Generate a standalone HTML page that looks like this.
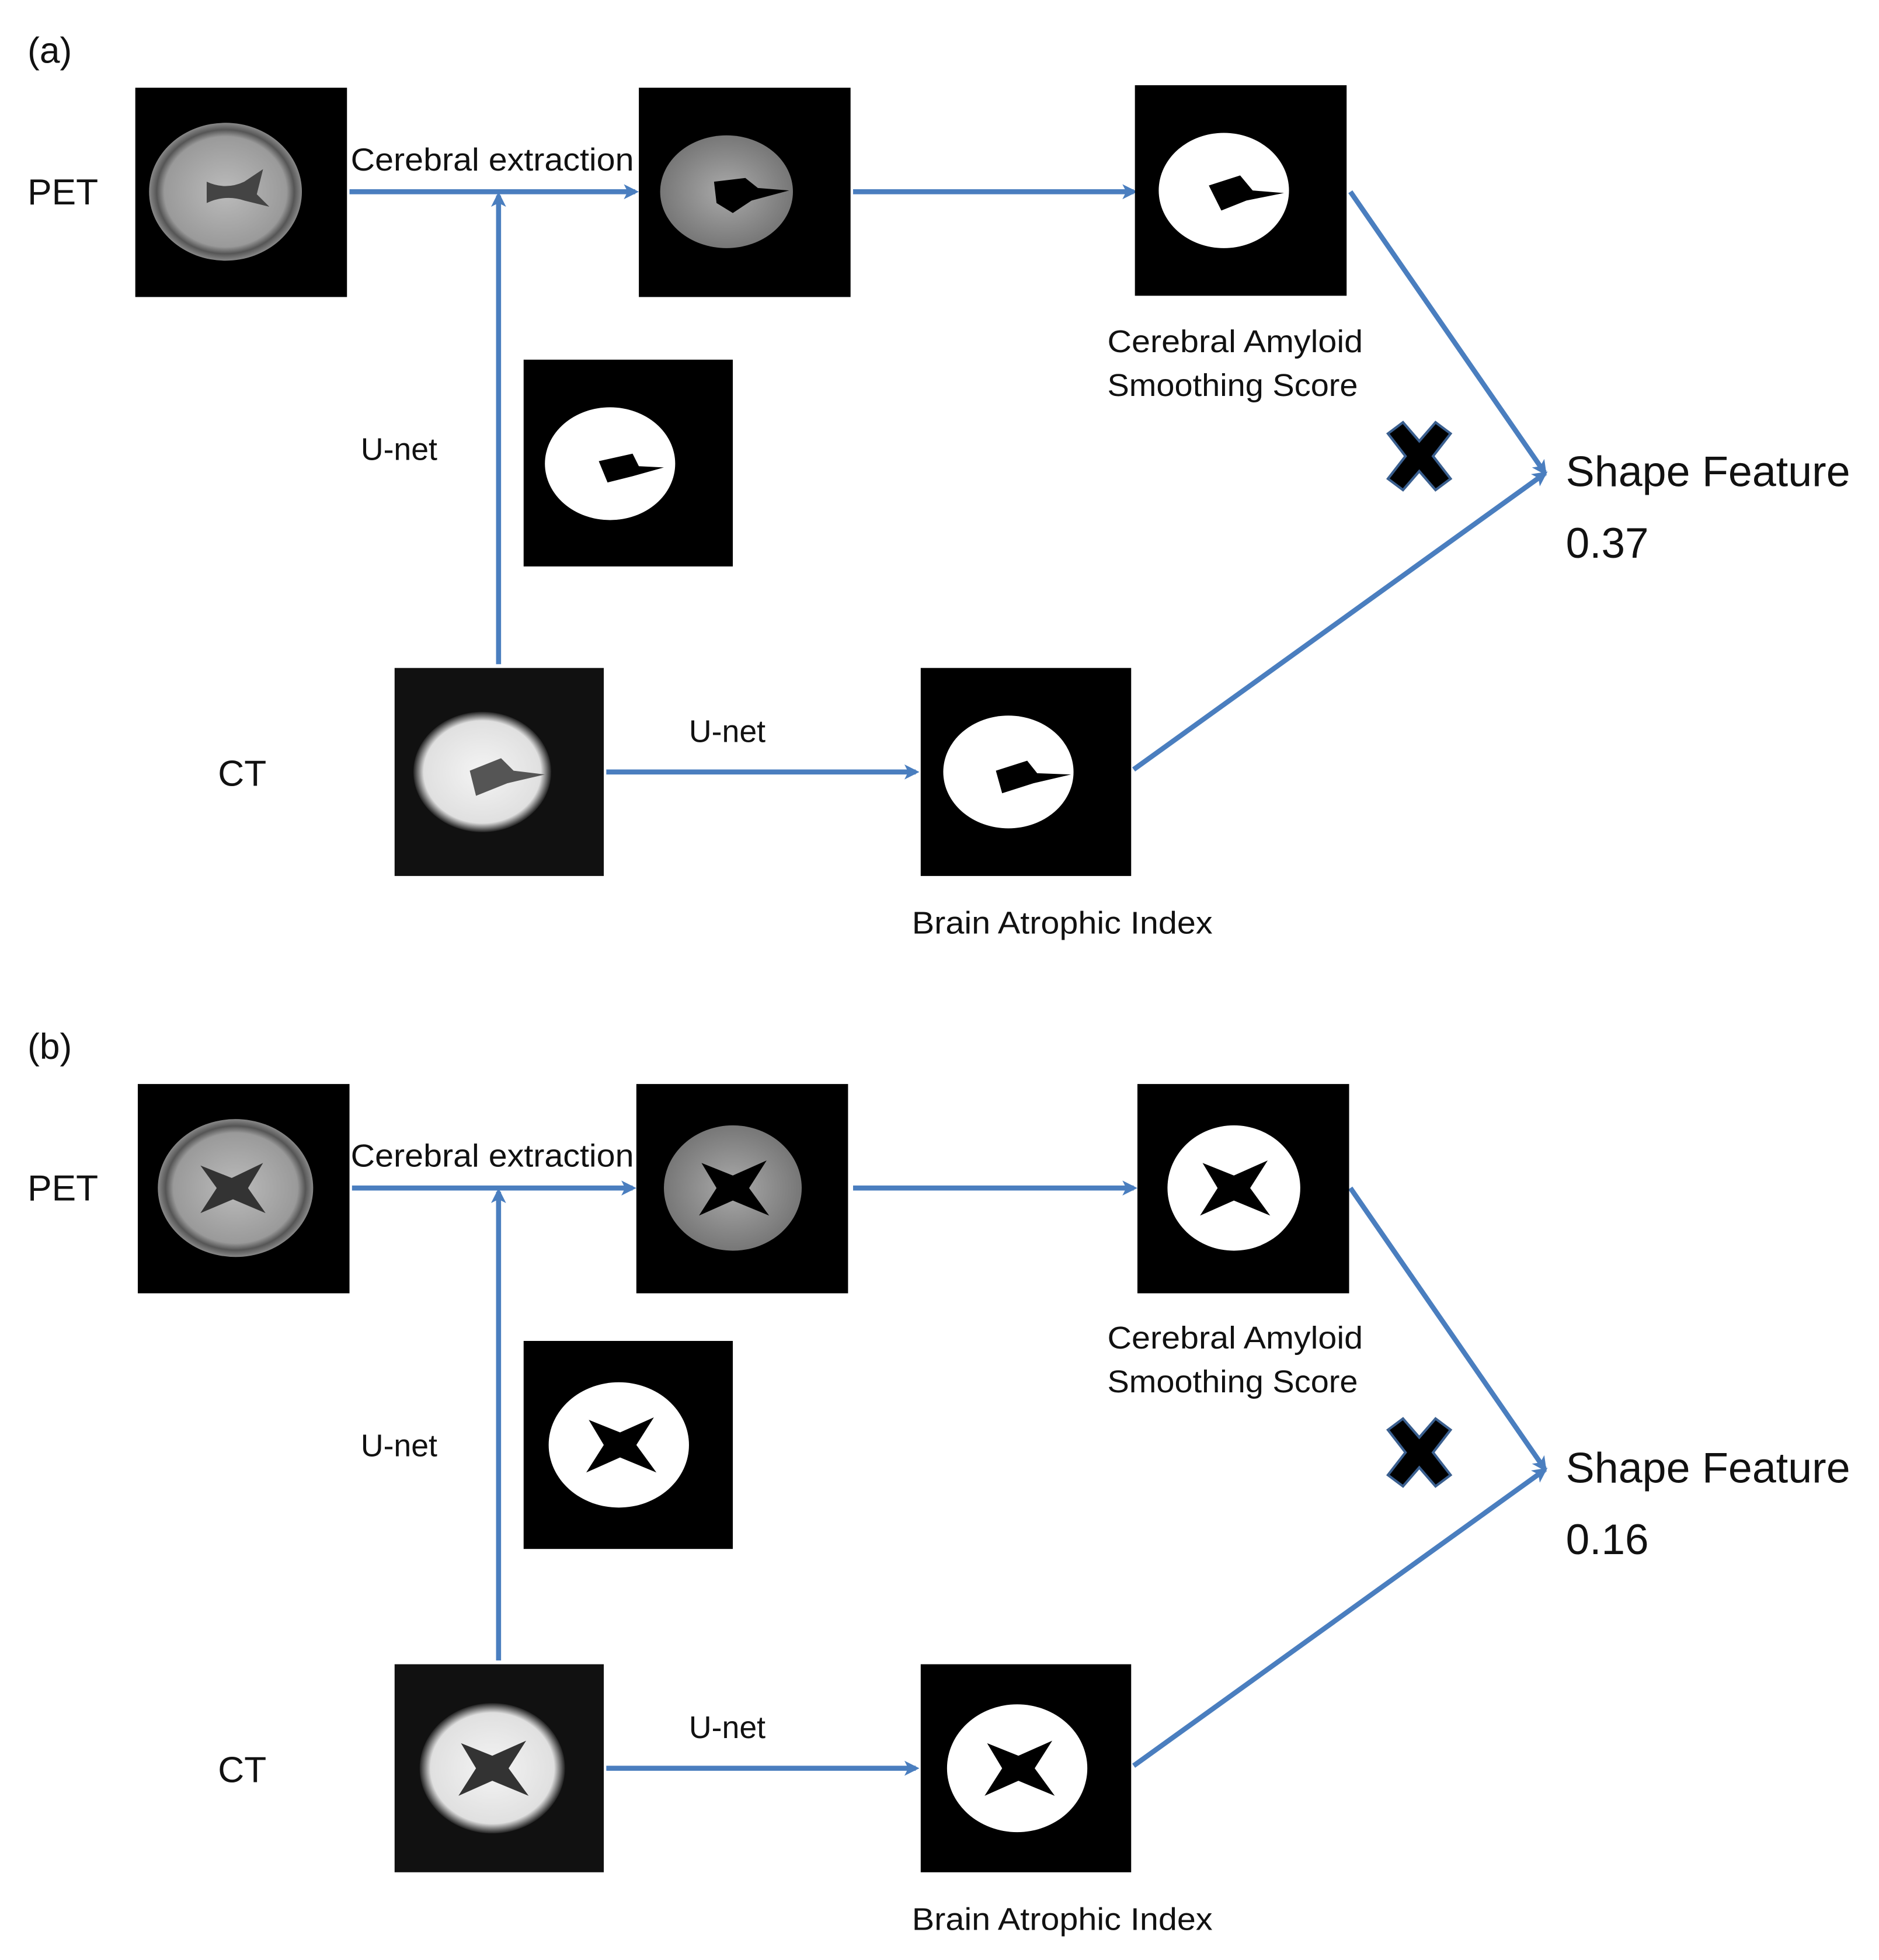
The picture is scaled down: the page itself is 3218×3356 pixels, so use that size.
<!DOCTYPE html>
<html><head><meta charset="utf-8"><style>
html,body{margin:0;padding:0;background:#fff;width:3218px;height:3356px;overflow:hidden}
svg{display:block}
text{font-family:"Liberation Sans",sans-serif;fill:#111}
</style></head><body>
<svg width="3218" height="3356" viewBox="0 0 1500 1564" preserveAspectRatio="none" xmlns="http://www.w3.org/2000/svg">
<defs>
<marker id="ah" markerWidth="12" markerHeight="12" refX="9" refY="6" orient="auto" markerUnits="userSpaceOnUse"><path d="M0,0 L12,6 L0,12 L3,6 z" fill="#4a7ebf"/></marker>
<radialGradient id="pet" cx="50%" cy="50%" r="50%"><stop offset="0" stop-color="#bbb"/><stop offset="0.8" stop-color="#9a9a9a"/><stop offset="0.9" stop-color="#555"/><stop offset="1" stop-color="#888"/></radialGradient>
<radialGradient id="pet2" cx="50%" cy="50%" r="50%"><stop offset="0" stop-color="#aaa"/><stop offset="1" stop-color="#777"/></radialGradient>
<radialGradient id="ct" cx="50%" cy="50%" r="50%"><stop offset="0" stop-color="#f4f4f4"/><stop offset="0.85" stop-color="#e0e0e0"/><stop offset="1" stop-color="#222"/></radialGradient>
</defs>
<g stroke="#4a7ebf" stroke-width="4" fill="none">
<line x1="279" y1="153" x2="507" y2="153" marker-end="url(#ah)"/>
<line x1="681" y1="153" x2="905" y2="153" marker-end="url(#ah)"/>
<line x1="398" y1="530" x2="398" y2="156" marker-end="url(#ah)"/>
<line x1="484" y1="616" x2="731" y2="616" marker-end="url(#ah)"/>
<line x1="1078" y1="153" x2="1233" y2="377" marker-end="url(#ah)"/>
<line x1="905" y1="614" x2="1233" y2="378" marker-end="url(#ah)"/>
<line x1="281" y1="948" x2="505" y2="948" marker-end="url(#ah)"/>
<line x1="681" y1="948" x2="905" y2="948" marker-end="url(#ah)"/>
<line x1="398" y1="1325" x2="398" y2="951" marker-end="url(#ah)"/>
<line x1="484" y1="1411" x2="731" y2="1411" marker-end="url(#ah)"/>
<line x1="1078" y1="948" x2="1233" y2="1172" marker-end="url(#ah)"/>
<line x1="905" y1="1409" x2="1233" y2="1173" marker-end="url(#ah)"/>
</g>

<rect x="108" y="70" width="169" height="167" fill="#000"/>
<ellipse cx="180" cy="153" rx="61" ry="55" fill="url(#pet)"/>
<path d="M165,145 Q180,152 195,145 L210,135 L205,155 L215,165 L195,160 Q180,155 165,162 Z" fill="#444"/>
<rect x="510" y="70" width="169" height="167" fill="#000"/>
<ellipse cx="580" cy="153" rx="53" ry="45" fill="url(#pet2)"/>
<path d="M570,145 L595,142 L605,150 L630,152 L600,160 L585,170 L572,162 Z" fill="#000"/>
<rect x="906" y="68" width="169" height="168" fill="#000"/>
<ellipse cx="977" cy="152" rx="52" ry="46" fill="#fff"/>
<path d="M965,148 L990,140 L1000,152 L1025,154 L995,160 L975,168 Z" fill="#000"/>
<rect x="418" y="287" width="167" height="165" fill="#000"/>
<ellipse cx="487" cy="370" rx="52" ry="45" fill="#fff"/>
<path d="M478,368 L505,362 L510,372 L530,373 L505,380 L485,385 Z" fill="#000"/>
<rect x="315" y="533" width="167" height="166" fill="#111"/>
<ellipse cx="385" cy="616" rx="55" ry="48" fill="url(#ct)"/>
<path d="M375,615 L400,605 L410,615 L435,618 L405,625 L380,635 Z" fill="#555"/>
<rect x="735" y="533" width="168" height="166" fill="#000"/>
<ellipse cx="805" cy="616" rx="52" ry="45" fill="#fff"/>
<path d="M795,615 L820,607 L828,617 L855,618 L825,625 L800,633 Z" fill="#000"/>

<rect x="110" y="865" width="169" height="167" fill="#000"/>
<ellipse cx="188" cy="948" rx="62" ry="55" fill="url(#pet)"/>
<path d="M160,930 L185,940 L210,928 L198,948 L212,968 L186,957 L160,968 L173,948 Z" fill="#333"/>
<rect x="508" y="865" width="169" height="167" fill="#000"/>
<ellipse cx="585" cy="948" rx="55" ry="50" fill="url(#pet2)"/>
<path d="M560,928 L585,938 L612,926 L598,948 L614,970 L585,958 L558,970 L572,948 Z" fill="#000"/>
<rect x="908" y="865" width="169" height="167" fill="#000"/>
<ellipse cx="985" cy="948" rx="53" ry="50" fill="#fff"/>
<path d="M960,928 L985,938 L1012,926 L998,948 L1014,970 L985,958 L958,970 L972,948 Z" fill="#000"/>
<rect x="418" y="1070" width="167" height="166" fill="#000"/>
<ellipse cx="494" cy="1153" rx="56" ry="50" fill="#fff"/>
<path d="M470,1133 L495,1143 L522,1131 L508,1153 L524,1175 L495,1163 L468,1175 L482,1153 Z" fill="#000"/>
<rect x="315" y="1328" width="167" height="166" fill="#111"/>
<ellipse cx="393" cy="1411" rx="58" ry="52" fill="url(#ct)"/>
<path d="M368,1391 L393,1401 L420,1389 L406,1411 L422,1433 L393,1421 L366,1433 L380,1411 Z" fill="#333"/>
<rect x="735" y="1328" width="168" height="166" fill="#000"/>
<ellipse cx="812" cy="1411" rx="56" ry="51" fill="#fff"/>
<path d="M788,1391 L813,1401 L840,1389 L826,1411 L842,1433 L813,1421 L786,1433 L800,1411 Z" fill="#000"/>

<g fill="#000" stroke="#3a5f8f" stroke-width="2">
<path d="M1108,346 L1120,337 L1133,352 L1146,337 L1158,346 L1144,364 L1158,382 L1146,391 L1133,376 L1120,391 L1108,382 L1122,364 Z"/>
<path d="M1108,1141 L1120,1132 L1133,1147 L1146,1132 L1158,1141 L1144,1159 L1158,1177 L1146,1186 L1133,1171 L1120,1186 L1108,1177 L1122,1159 Z"/>
</g>

<text x="22" y="50" font-size="29">(a)</text>
<text x="22" y="163" font-size="29">PET</text>
<text x="280" y="136" font-size="25.5" textLength="226" lengthAdjust="spacingAndGlyphs">Cerebral extraction</text>
<text x="884" y="281" font-size="25" textLength="204" lengthAdjust="spacingAndGlyphs">Cerebral Amyloid</text>
<text x="884" y="316" font-size="25" textLength="200" lengthAdjust="spacingAndGlyphs">Smoothing Score</text>
<text x="288" y="367" font-size="25">U-net</text>
<text x="174" y="627" font-size="29">CT</text>
<text x="550" y="592" font-size="25">U-net</text>
<text x="728" y="745" font-size="25" textLength="240" lengthAdjust="spacingAndGlyphs">Brain Atrophic Index</text>
<text x="1250" y="388" font-size="34" textLength="227" lengthAdjust="spacingAndGlyphs">Shape Feature</text>
<text x="1250" y="445" font-size="34">0.37</text>

<text x="22" y="845" font-size="29">(b)</text>
<text x="22" y="958" font-size="29">PET</text>
<text x="280" y="931" font-size="25.5" textLength="226" lengthAdjust="spacingAndGlyphs">Cerebral extraction</text>
<text x="884" y="1076" font-size="25" textLength="204" lengthAdjust="spacingAndGlyphs">Cerebral Amyloid</text>
<text x="884" y="1111" font-size="25" textLength="200" lengthAdjust="spacingAndGlyphs">Smoothing Score</text>
<text x="288" y="1162" font-size="25">U-net</text>
<text x="174" y="1422" font-size="29">CT</text>
<text x="550" y="1387" font-size="25">U-net</text>
<text x="728" y="1540" font-size="25" textLength="240" lengthAdjust="spacingAndGlyphs">Brain Atrophic Index</text>
<text x="1250" y="1183" font-size="34" textLength="227" lengthAdjust="spacingAndGlyphs">Shape Feature</text>
<text x="1250" y="1240" font-size="34">0.16</text>
</svg>
</body></html>
